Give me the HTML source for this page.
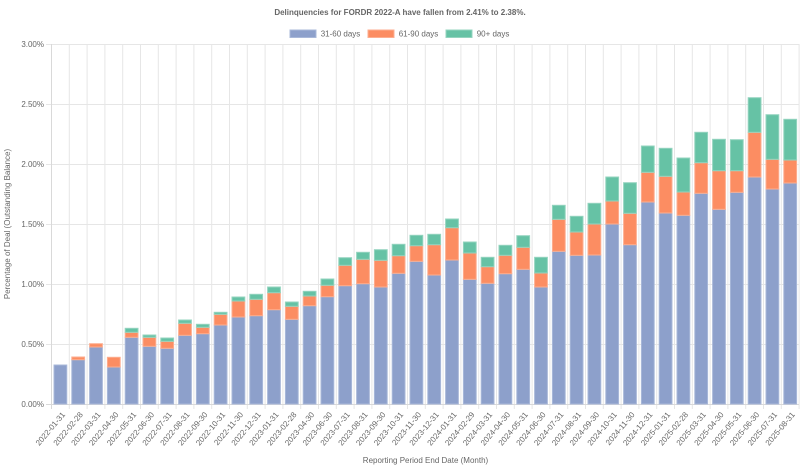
<!DOCTYPE html>
<html><head><meta charset="utf-8"><style>
html,body{margin:0;padding:0;background:#fff;}
svg{display:block;font-family:"Liberation Sans",Arial,sans-serif;}
.t{fill:#666;font-size:8px;}
.b rect{stroke-width:1;}
.bl{fill:#8da0cb;stroke:#a9b8d9;}
.or{fill:#fc8d62;stroke:#fdae90;}
.gr{fill:#66c2a5;stroke:#94d4bf;}
</style></head><body>
<svg width="800" height="467" viewBox="0 0 800 467" xmlns="http://www.w3.org/2000/svg">
<rect width="800" height="467" fill="#fff"/>
<text class="t" x="400" y="15" text-anchor="middle" font-weight="bold">Delinquencies for FORDR 2022-A have fallen from 2.41% to 2.38%.</text>
<rect x="290" y="30" width="26" height="7.5" class="bl"/>
<text class="t" x="320.7" y="36.7">31-60 days</text>
<rect x="368" y="30" width="26" height="7.5" class="or"/>
<text class="t" x="398.7" y="36.7">61-90 days</text>
<rect x="446" y="30" width="26" height="7.5" class="gr"/>
<text class="t" x="476.7" y="36.7">90+ days</text>
<path stroke="#e6e6e6" stroke-width="1" fill="none" d="M46 44.5H799M46 104.5H799M46 164.5H799M46 224.5H799M46 284.5H799M46 344.5H799
M69.3 44V409M87.1 44V409M104.9 44V409M122.7 44V409M140.5 44V409M158.3 44V409M176.1 44V409M193.9 44V409M211.7 44V409M229.5 44V409M247.3 44V409M265.1 44V409M282.9 44V409M300.7 44V409M318.5 44V409M336.3 44V409M354.1 44V409M371.9 44V409M389.7 44V409M407.5 44V409M425.3 44V409M443.1 44V409M460.9 44V409M478.7 44V409M496.5 44V409M514.3 44V409M532.1 44V409M549.9 44V409M567.7 44V409M585.5 44V409M603.3 44V409M621.1 44V409M638.9 44V409M656.7 44V409M674.5 44V409M692.3 44V409M710.1 44V409M727.9 44V409M745.7 44V409M763.5 44V409M781.3 44V409M799.1 44V409"/>
<path stroke="#d9d9d9" stroke-width="1" fill="none" d="M51.5 44V409M46 404.5H799"/>
<g class="t" text-anchor="end">
<text x="44" y="47">3.00%</text>
<text x="44" y="107">2.50%</text>
<text x="44" y="167">2.00%</text>
<text x="44" y="227">1.50%</text>
<text x="44" y="287">1.00%</text>
<text x="44" y="347">0.50%</text>
<text x="44" y="407">0.00%</text>
</g>
<text class="t" transform="translate(10,224) rotate(-90)" text-anchor="middle">Percentage of Deal (Outstanding Balance)</text>
<text class="t" x="425.5" y="463" text-anchor="middle">Reporting Period End Date (Month)</text>
<g class="b">
<g transform="translate(54,0)"><rect class="bl" x="0" y="365" width="12.8" height="39"/></g>
<g transform="translate(71.8,0)"><rect class="bl" y="359.7" width="12.8" height="44.3"/><rect class="or" y="357" width="12.8" height="2.7"/></g>
<g transform="translate(89.6,0)"><rect class="bl" y="347" width="12.8" height="57"/><rect class="or" y="343.7" width="12.8" height="3.3"/></g>
<g transform="translate(107.4,0)"><rect class="bl" y="367" width="12.8" height="37"/><rect class="or" y="357.3" width="12.8" height="9.7"/></g>
<g transform="translate(125.2,0)"><rect class="bl" y="337.3" width="12.8" height="66.7"/><rect class="or" y="332.3" width="12.8" height="5"/><rect class="gr" y="328.3" width="12.8" height="4"/></g>
<g transform="translate(143,0)"><rect class="bl" y="346.3" width="12.8" height="57.7"/><rect class="or" y="337.3" width="12.8" height="9"/><rect class="gr" y="335" width="12.8" height="2.3"/></g>
<g transform="translate(160.8,0)"><rect class="bl" y="348.3" width="12.8" height="55.7"/><rect class="or" y="341.3" width="12.8" height="7"/><rect class="gr" y="338" width="12.8" height="3.3"/></g>
<g transform="translate(178.6,0)"><rect class="bl" y="335.3" width="12.8" height="68.7"/><rect class="or" y="323.3" width="12.8" height="12"/><rect class="gr" y="320" width="12.8" height="3.3"/></g>
<g transform="translate(196.4,0)"><rect class="bl" y="333.7" width="12.8" height="70.3"/><rect class="or" y="327.3" width="12.8" height="6.4"/><rect class="gr" y="324.3" width="12.8" height="3"/></g>
<g transform="translate(214.2,0)"><rect class="bl" y="325" width="12.8" height="79"/><rect class="or" y="314.3" width="12.8" height="10.7"/><rect class="gr" y="312.3" width="12.8" height="2"/></g>
<g transform="translate(232,0)"><rect class="bl" y="317" width="12.8" height="87"/><rect class="or" y="301" width="12.8" height="16"/><rect class="gr" y="297" width="12.8" height="4"/></g>
<g transform="translate(249.8,0)"><rect class="bl" y="315.7" width="12.8" height="88.3"/><rect class="or" y="299.3" width="12.8" height="16.4"/><rect class="gr" y="294.3" width="12.8" height="5"/></g>
<g transform="translate(267.6,0)"><rect class="bl" y="309.7" width="12.8" height="94.3"/><rect class="or" y="292.7" width="12.8" height="17"/><rect class="gr" y="287" width="12.8" height="5.7"/></g>
<g transform="translate(285.4,0)"><rect class="bl" y="319.3" width="12.8" height="84.7"/><rect class="or" y="306.3" width="12.8" height="13"/><rect class="gr" y="302" width="12.8" height="4.3"/></g>
<g transform="translate(303.2,0)"><rect class="bl" y="305.7" width="12.8" height="98.3"/><rect class="or" y="296" width="12.8" height="9.7"/><rect class="gr" y="291.3" width="12.8" height="4.7"/></g>
<g transform="translate(321,0)"><rect class="bl" y="296.7" width="12.8" height="107.3"/><rect class="or" y="285.3" width="12.8" height="11.4"/><rect class="gr" y="279" width="12.8" height="6.3"/></g>
<g transform="translate(338.8,0)"><rect class="bl" y="285.7" width="12.8" height="118.3"/><rect class="or" y="265.3" width="12.8" height="20.4"/><rect class="gr" y="257.7" width="12.8" height="7.6"/></g>
<g transform="translate(356.6,0)"><rect class="bl" y="283.7" width="12.8" height="120.3"/><rect class="or" y="259.3" width="12.8" height="24.4"/><rect class="gr" y="252.3" width="12.8" height="7"/></g>
<g transform="translate(374.4,0)"><rect class="bl" y="287" width="12.8" height="117"/><rect class="or" y="260.3" width="12.8" height="26.7"/><rect class="gr" y="249.7" width="12.8" height="10.6"/></g>
<g transform="translate(392.2,0)"><rect class="bl" y="273.3" width="12.8" height="130.7"/><rect class="or" y="255.7" width="12.8" height="17.6"/><rect class="gr" y="244.3" width="12.8" height="11.4"/></g>
<g transform="translate(410,0)"><rect class="bl" y="261.3" width="12.8" height="142.7"/><rect class="or" y="245.7" width="12.8" height="15.6"/><rect class="gr" y="235.3" width="12.8" height="10.4"/></g>
<g transform="translate(427.8,0)"><rect class="bl" y="275" width="12.8" height="129"/><rect class="or" y="244.7" width="12.8" height="30.3"/><rect class="gr" y="234.3" width="12.8" height="10.4"/></g>
<g transform="translate(445.6,0)"><rect class="bl" y="260" width="12.8" height="144"/><rect class="or" y="227.7" width="12.8" height="32.3"/><rect class="gr" y="219" width="12.8" height="8.7"/></g>
<g transform="translate(463.4,0)"><rect class="bl" y="279.3" width="12.8" height="124.7"/><rect class="or" y="253" width="12.8" height="26.3"/><rect class="gr" y="242" width="12.8" height="11"/></g>
<g transform="translate(481.2,0)"><rect class="bl" y="283.3" width="12.8" height="120.7"/><rect class="or" y="266.7" width="12.8" height="16.6"/><rect class="gr" y="257.3" width="12.8" height="9.4"/></g>
<g transform="translate(499,0)"><rect class="bl" y="273.7" width="12.8" height="130.3"/><rect class="or" y="255.3" width="12.8" height="18.4"/><rect class="gr" y="245.3" width="12.8" height="10"/></g>
<g transform="translate(516.8,0)"><rect class="bl" y="269.3" width="12.8" height="134.7"/><rect class="or" y="247.3" width="12.8" height="22"/><rect class="gr" y="235.7" width="12.8" height="11.6"/></g>
<g transform="translate(534.6,0)"><rect class="bl" y="287" width="12.8" height="117"/><rect class="or" y="273" width="12.8" height="14"/><rect class="gr" y="257.3" width="12.8" height="15.7"/></g>
<g transform="translate(552.4,0)"><rect class="bl" y="251.3" width="12.8" height="152.7"/><rect class="or" y="219.3" width="12.8" height="32"/><rect class="gr" y="205.3" width="12.8" height="14"/></g>
<g transform="translate(570.2,0)"><rect class="bl" y="255.3" width="12.8" height="148.7"/><rect class="or" y="232" width="12.8" height="23.3"/><rect class="gr" y="216.3" width="12.8" height="15.7"/></g>
<g transform="translate(588,0)"><rect class="bl" y="255" width="12.8" height="149"/><rect class="or" y="224" width="12.8" height="31"/><rect class="gr" y="203.3" width="12.8" height="20.7"/></g>
<g transform="translate(605.8,0)"><rect class="bl" y="224" width="12.8" height="180"/><rect class="or" y="201" width="12.8" height="23"/><rect class="gr" y="177" width="12.8" height="24"/></g>
<g transform="translate(623.6,0)"><rect class="bl" y="244.7" width="12.8" height="159.3"/><rect class="or" y="213.3" width="12.8" height="31.4"/><rect class="gr" y="182.7" width="12.8" height="30.6"/></g>
<g transform="translate(641.4,0)"><rect class="bl" y="202" width="12.8" height="202"/><rect class="or" y="172.3" width="12.8" height="29.7"/><rect class="gr" y="146" width="12.8" height="26.3"/></g>
<g transform="translate(659.2,0)"><rect class="bl" y="213" width="12.8" height="191"/><rect class="or" y="176.3" width="12.8" height="36.7"/><rect class="gr" y="148.3" width="12.8" height="28"/></g>
<g transform="translate(677,0)"><rect class="bl" y="215.3" width="12.8" height="188.7"/><rect class="or" y="192" width="12.8" height="23.3"/><rect class="gr" y="158" width="12.8" height="34"/></g>
<g transform="translate(694.8,0)"><rect class="bl" y="193.3" width="12.8" height="210.7"/><rect class="or" y="162.7" width="12.8" height="30.6"/><rect class="gr" y="132.3" width="12.8" height="30.4"/></g>
<g transform="translate(712.6,0)"><rect class="bl" y="209.3" width="12.8" height="194.7"/><rect class="or" y="170.7" width="12.8" height="38.6"/><rect class="gr" y="139.3" width="12.8" height="31.4"/></g>
<g transform="translate(730.4,0)"><rect class="bl" y="192.3" width="12.8" height="211.7"/><rect class="or" y="170.7" width="12.8" height="21.6"/><rect class="gr" y="139.7" width="12.8" height="31"/></g>
<g transform="translate(748.2,0)"><rect class="bl" y="177" width="12.8" height="227"/><rect class="or" y="132.3" width="12.8" height="44.7"/><rect class="gr" y="97.7" width="12.8" height="34.6"/></g>
<g transform="translate(766,0)"><rect class="bl" y="189" width="12.8" height="215"/><rect class="or" y="159.3" width="12.8" height="29.7"/><rect class="gr" y="114.7" width="12.8" height="44.6"/></g>
<g transform="translate(783.8,0)"><rect class="bl" y="183" width="12.8" height="221"/><rect class="or" y="160" width="12.8" height="23"/><rect class="gr" y="119.3" width="12.8" height="40.7"/></g>
</g>
<g class="t" text-anchor="end">
<text transform="translate(63.4,413) rotate(-50)" dy="0.35em">2022-01-31</text>
<text transform="translate(81.2,413) rotate(-50)" dy="0.35em">2022-02-28</text>
<text transform="translate(99,413) rotate(-50)" dy="0.35em">2022-03-31</text>
<text transform="translate(116.8,413) rotate(-50)" dy="0.35em">2022-04-30</text>
<text transform="translate(134.6,413) rotate(-50)" dy="0.35em">2022-05-31</text>
<text transform="translate(152.4,413) rotate(-50)" dy="0.35em">2022-06-30</text>
<text transform="translate(170.2,413) rotate(-50)" dy="0.35em">2022-07-31</text>
<text transform="translate(188,413) rotate(-50)" dy="0.35em">2022-08-31</text>
<text transform="translate(205.8,413) rotate(-50)" dy="0.35em">2022-09-30</text>
<text transform="translate(223.6,413) rotate(-50)" dy="0.35em">2022-10-31</text>
<text transform="translate(241.4,413) rotate(-50)" dy="0.35em">2022-11-30</text>
<text transform="translate(259.2,413) rotate(-50)" dy="0.35em">2022-12-31</text>
<text transform="translate(277,413) rotate(-50)" dy="0.35em">2023-01-31</text>
<text transform="translate(294.8,413) rotate(-50)" dy="0.35em">2023-02-28</text>
<text transform="translate(312.6,413) rotate(-50)" dy="0.35em">2023-04-30</text>
<text transform="translate(330.4,413) rotate(-50)" dy="0.35em">2023-06-30</text>
<text transform="translate(348.2,413) rotate(-50)" dy="0.35em">2023-07-31</text>
<text transform="translate(366,413) rotate(-50)" dy="0.35em">2023-08-31</text>
<text transform="translate(383.8,413) rotate(-50)" dy="0.35em">2023-09-30</text>
<text transform="translate(401.6,413) rotate(-50)" dy="0.35em">2023-10-31</text>
<text transform="translate(419.4,413) rotate(-50)" dy="0.35em">2023-11-30</text>
<text transform="translate(437.2,413) rotate(-50)" dy="0.35em">2023-12-31</text>
<text transform="translate(455,413) rotate(-50)" dy="0.35em">2024-01-31</text>
<text transform="translate(472.8,413) rotate(-50)" dy="0.35em">2024-02-29</text>
<text transform="translate(490.6,413) rotate(-50)" dy="0.35em">2024-03-31</text>
<text transform="translate(508.4,413) rotate(-50)" dy="0.35em">2024-04-30</text>
<text transform="translate(526.2,413) rotate(-50)" dy="0.35em">2024-05-31</text>
<text transform="translate(544,413) rotate(-50)" dy="0.35em">2024-06-30</text>
<text transform="translate(561.8,413) rotate(-50)" dy="0.35em">2024-07-31</text>
<text transform="translate(579.6,413) rotate(-50)" dy="0.35em">2024-08-31</text>
<text transform="translate(597.4,413) rotate(-50)" dy="0.35em">2024-09-30</text>
<text transform="translate(615.2,413) rotate(-50)" dy="0.35em">2024-10-31</text>
<text transform="translate(633,413) rotate(-50)" dy="0.35em">2024-11-30</text>
<text transform="translate(650.8,413) rotate(-50)" dy="0.35em">2024-12-31</text>
<text transform="translate(668.6,413) rotate(-50)" dy="0.35em">2025-01-31</text>
<text transform="translate(686.4,413) rotate(-50)" dy="0.35em">2025-02-28</text>
<text transform="translate(704.2,413) rotate(-50)" dy="0.35em">2025-03-31</text>
<text transform="translate(722,413) rotate(-50)" dy="0.35em">2025-04-30</text>
<text transform="translate(739.8,413) rotate(-50)" dy="0.35em">2025-05-31</text>
<text transform="translate(757.6,413) rotate(-50)" dy="0.35em">2025-06-30</text>
<text transform="translate(775.4,413) rotate(-50)" dy="0.35em">2025-07-31</text>
<text transform="translate(793.2,413) rotate(-50)" dy="0.35em">2025-08-31</text>
</g>
</svg>
</body></html>
